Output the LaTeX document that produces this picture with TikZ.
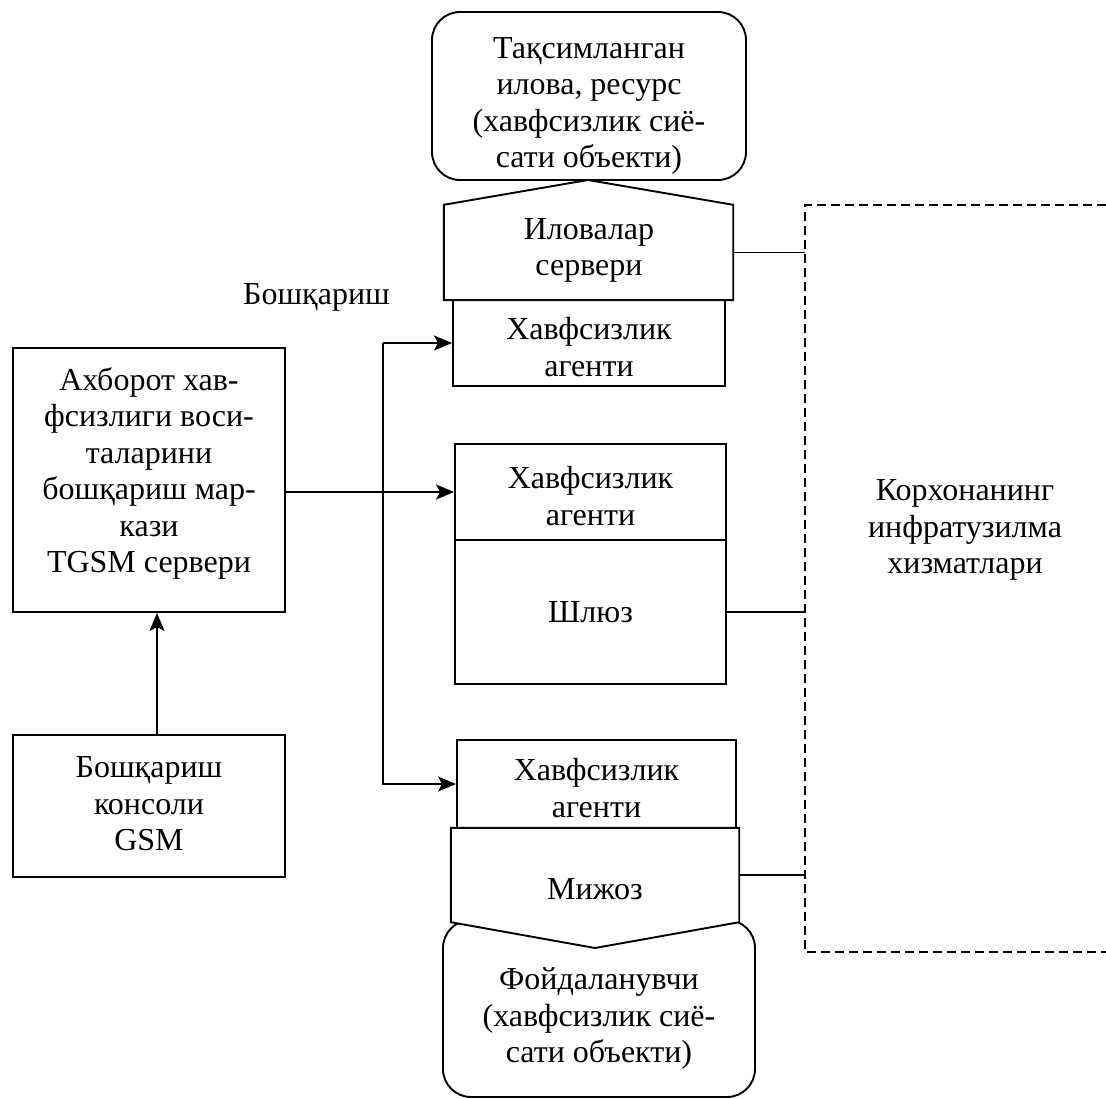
\documentclass[tikz,border=0pt]{standalone}
\usepackage{fontspec}
\setmainfont{Liberation Serif}
\usetikzlibrary{arrows.meta,calc}
\begin{document}
\begin{tikzpicture}[x=1pt,y=-1pt,
  every node/.style={font=\fontsize{32}{36.5}\selectfont},
  ln/.style={line width=1.9pt},
  box/.style={ln,draw,inner sep=0pt},
  txt/.style={align=center,inner sep=0pt},
  arr/.style={ln,-{Stealth[length=18pt,width=15pt,inset=4pt]}},
  dashline/.style={ln,dash pattern=on 9pt off 5pt}
]
\useasboundingbox (0,0) rectangle (1106,1099);
\fill[white] (0,0) rectangle (1106,1099);

% top resource
\node[box,rounded corners=28pt,minimum width=314pt,minimum height=168pt] (res) at (589,96) {};
\node[txt] (restxt) at (589,106) {Тақсимланган\\илова, ресурс\\(хавфсизлик сиё-\\сати объекти)};

% application server (pentagon)
\node[inner sep=0pt,minimum width=289pt,minimum height=95pt] (srv) at (588.5,252.5) {};
\coordinate (roof) at (588,180);
\draw[ln,fill=white] (srv.south west) -- (srv.north west) -- (roof) -- (srv.north east) -- (srv.south east) -- cycle;
\node[txt] (srvtxt) at (589,250.5) {Иловалар\\сервери};

% agent 1
\node[box,minimum width=272pt,minimum height=86pt] (ag1) at (589,343) {};
\node[txt] (ag1txt) at (589,347) {Хавфсизлик\\агенти};

% agent 2 + gateway
\node[box,minimum width=271pt,minimum height=96pt] (ag2) at (590.5,492) {};
\node[txt] (ag2txt) at (590.5,496) {Хавфсизлик\\агенти};
\node[box,minimum width=271pt,minimum height=144pt] (gw) at (590.5,612) {};
\node[txt,anchor=base] (gwtxt) at (590.5,622) {Шлюз};

% user (rounded, behind client)
\node[box,rounded corners=28pt,minimum width=312pt,minimum height=177pt] (usr) at (599,1008.5) {};
\node[txt] (usrtxt) at (599,1018.5) {Фойдаланувчи\\(хавфсизлик сиё-\\сати объекти)};

% agent 3
\node[box,minimum width=279pt,minimum height=88pt] (ag3) at (596.5,784) {};
\node[txt] (ag3txt) at (596.5,788) {Хавфсизлик\\агенти};

% client (pentagon pointing down)
\node[inner sep=0pt,minimum width=288pt,minimum height=94pt] (cli) at (595,875) {};
\coordinate (vtip) at (595,948);
\draw[ln,fill=white] (cli.north west) -- (cli.north east) -- (cli.south east) -- (vtip) -- (cli.south west) -- cycle;
\node[txt,anchor=base] (clitxt) at (595,899) {Мижоз};

% management centre
\node[box,minimum width=272pt,minimum height=264pt] (tgsm) at (149,480) {};
\node[txt] (tgsmtxt) at (149,473.5) {Ахборот хав-\\фсизлиги воси-\\таларини\\бошқариш мар-\\кази\\TGSM сервери};

% console
\node[box,minimum width=272pt,minimum height=142pt] (con) at (149,806) {};
\node[txt] (contxt) at (149,804) {Бошқариш\\консоли\\GSM};

\draw[arr] ([xshift=8pt]con.north) -- ([xshift=8pt]tgsm.south);
\draw[arr] (tgsm.east |- ag2.west) -- (ag2.west);

% management bus
\coordinate (bus) at (383,0);
\node[txt,anchor=base] (mgmt) at (316.5,305) {Бошқариш};
\draw[arr] (ag1.west -| bus) -- (ag1.west);
\draw[arr] (ag1.west -| bus) -- (ag3.west -| bus) -- (ag3.west);

% infrastructure (dashed)
\coordinate (dtl) at (805,205);
\coordinate (dbl) at (805,952);
\coordinate (dtr) at (1106,205);
\coordinate (dbr) at (1106,952);
\draw[dashline] (dtr) -- (dtl) -- (dbl) -- (dbr);
\node[txt] (infra) at (965,530) {Корхонанинг\\инфратузилма\\хизматлари};

\draw[ln] (srv.east) -- (srv.east -| dtl);
\draw[ln] (gw.east) -- (gw.east -| dtl);
\draw[ln] (cli.east) -- (cli.east -| dtl);
\end{tikzpicture}
\end{document}
